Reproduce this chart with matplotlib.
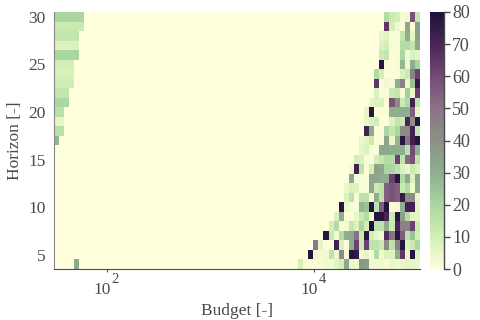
import numpy as np
import matplotlib
matplotlib.use("Agg")
import matplotlib.pyplot as plt
from matplotlib.colors import LinearSegmentedColormap
from matplotlib.transforms import ScaledTranslation

plt.rcParams['font.family'] = ['Liberation Serif', 'DejaVu Serif']

horizons = list(range(4, 31))
n_budget_cells = 72
budget_log_min, budget_log_max = 1.488, 5.024

# Left wedge: number of non-empty cells and their count, row per horizon from 30 downwards
left_widths = [6, 6, 5, 5, 5, 4, 4, 4, 3, 3, 2, 2, 2, 1]
left_values = [20, 12, 14, 8, 20, 10, 9, 11, 14, 20, 16, 6, 16, 28]

# Right-aligned tails, one per horizon from 30 downwards
tail_rows = [
    [18,12,10,2,3,58,14],
    [65,10,4,1,32,2,35],
    [5,7,2,2,14,30,6,35],
    [8,10,2,2,18,18,14,32],
    [12,14,1,2,20,3,8,7],
    [78,1,1,2,28,3,30,20],
    [18,10,1,1,2,8,12,45,62],
    [65,1,4,3,30,45,5,25,75],
    [8,1,1,12,14,2,22,5,62],
    [6,8,8,1,58,42,12,18,72,15],
    [6,78,1,1,1,30,30,30,30,55,6],
    [5,8,10,1,1,8,14,12,70,40,78],
    [72,32,1,1,20,14,20,42,42,72,14],
    [5,7,12,1,1,33,5,28,78,50,72,78],
    [6,8,2,1,32,32,30,30,30,15,60,30],
    [10,8,2,1,10,14,18,18,62,15,52,58,15],
    [3,72,15,1,10,34,32,20,20,15,8,5,12,8],
    [32,2,1,1,33,33,30,30,62,78,18,32,8,33],
    [5,8,8,1,1,32,12,15,55,58,55,12,18,4,32],
    [8,15,1,15,15,3,30,15,55,58,55,75,42,42,5],
    [78,5,2,2,28,25,78,15,55,78,1,3,30,72,72,6],
    [8,30,1,2,5,12,18,4,78,78,70,12,78,35,18,6,6],
    [10,18,2,3,14,8,20,10,80,15,15,30,12,70,45,45,62,12],
    [78,12,3,18,30,32,50,12,78,10,6,3,68,50,78,55,15,25,10],
    [48,6,1,1,72,8,1,30,62,12,62,15,15,12,42,15,45,78,8,12,20],
    [78,4,3,3,15,4,42,3,78,75,3,6,2,18,4,8,8,30,65,5,78,8],
    [7,10,2,2,1,2,3,3,7,10,32,5,4,38,36,3,3,4,2,5,4,5,6,6,5][1:],
]
# One isolated count at horizon 4
spike_cell, spike_value = 4, 32

budget_ticks = [1e2, 1e4]
budget_tick_base = ['10', '10']
budget_tick_exp = ['2', '4']

cmap_colors = ['#ffffdc', '#d3efb6', '#a9d6a1', '#8fae8f', '#8c9184',
               '#8b7286', '#744a75', '#4b2559', '#1d1239']

counts = np.zeros((len(horizons), n_budget_cells))
for i, tail in enumerate(tail_rows):
    row = len(horizons) - 1 - i
    counts[row, n_budget_cells - len(tail):] = tail
for i, (w, v) in enumerate(zip(left_widths, left_values)):
    row = len(horizons) - 1 - i
    counts[row, :w] = v
counts[0, spike_cell] = spike_value

x_edges = np.logspace(budget_log_min, budget_log_max, n_budget_cells + 1)
y_edges = np.arange(horizons[0] - 0.5, horizons[-1] + 1.0)

ink = '#4a4a4a'
fig = plt.figure(figsize=(4.8, 3.2), dpi=100)
W, H = 480, 320
ax = fig.add_axes([54/W, 1 - 269/H, 366/W, 257/H])
cmap = LinearSegmentedColormap.from_list('budget', cmap_colors)
mesh = ax.pcolormesh(x_edges, y_edges, counts, cmap=cmap, vmin=0, vmax=80,
                     linewidth=0, rasterized=True)
ax.set_xscale('log')
ax.set_xlim(x_edges[0], x_edges[-1])
ax.set_ylim(y_edges[0], y_edges[-1])
ax.set_xticks(budget_ticks)
ax.set_xticklabels(budget_tick_base)
ax.xaxis.set_minor_locator(matplotlib.ticker.NullLocator())
ax.set_yticks([5, 10, 15, 20, 25, 30])
ax.tick_params(axis='x', length=2, width=0.8, color=ink, labelcolor=ink, labelsize=12.5, pad=7)
ax.tick_params(axis='y', length=0, labelcolor=ink, labelsize=12.5, pad=6)
shift = ScaledTranslation(-5/100, 0, fig.dpi_scale_trans)
for lab in ax.get_xticklabels():
    lab.set_transform(lab.get_transform() + shift)
for t, e in zip(budget_ticks, budget_tick_exp):
    ax.annotate(e, xy=(t, 0), xycoords=ax.get_xaxis_transform(), xytext=(8.5, -14),
                textcoords='offset pixels', ha='center', va='baseline', fontsize=10.5, color=ink)
ax.set_xlabel('Budget [-]', fontsize=12.5, color=ink, labelpad=4)
ax.set_ylabel('Horizon [-]', fontsize=12.5, color=ink, labelpad=4)
for s in ['top', 'right']:
    ax.spines[s].set_visible(False)
ax.spines['left'].set_color('#888888')
ax.spines['left'].set_linewidth(0.8)
ax.spines['bottom'].set_color(ink)
ax.spines['bottom'].set_linewidth(0.8)

cax = fig.add_axes([430/W, 1 - 269/H, 14/W, 257/H])
cb = fig.colorbar(mesh, cax=cax)
cb.set_ticks(list(range(0, 81, 10)))
cb.outline.set_visible(False)
cax.tick_params(length=4, width=1, color=ink, labelcolor=ink, labelsize=13, pad=2)
cax.spines['right'].set_visible(True)
cax.spines['right'].set_color(ink)
cax.spines['right'].set_linewidth(1)
fig.savefig('out.png', dpi=100)
